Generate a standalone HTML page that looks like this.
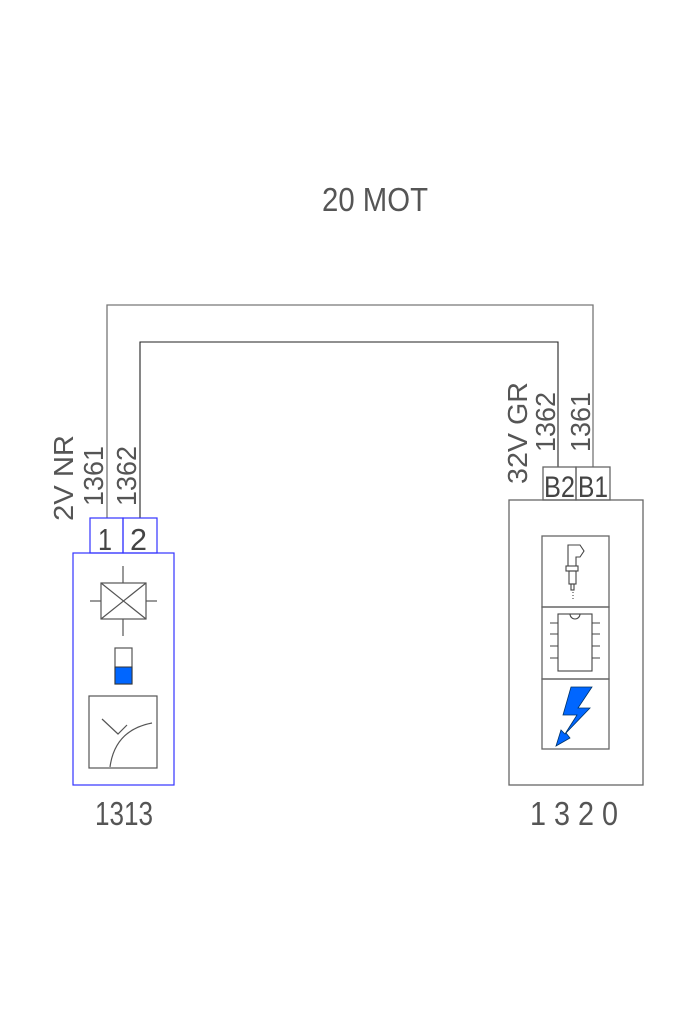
<!DOCTYPE html>
<html><head><style>body{margin:0;background:#fff}</style></head><body>
<svg width="700" height="1020" xmlns="http://www.w3.org/2000/svg" font-family="Liberation Sans, sans-serif" fill="none">
<g fill="#555" font-size="33">
<text x="322" y="211" textLength="106" lengthAdjust="spacingAndGlyphs">20 MOT</text>
<text x="95" y="825" textLength="58" lengthAdjust="spacingAndGlyphs">1313</text>
<text x="530" y="825" textLength="88" lengthAdjust="spacingAndGlyphs">1 3 2 0</text>
</g>
<g fill="#555" font-size="28">
<text transform="translate(73,521) rotate(-90)" textLength="86" lengthAdjust="spacingAndGlyphs">2V NR</text>
<text transform="translate(103,506) rotate(-90)" textLength="60" lengthAdjust="spacingAndGlyphs">1361</text>
<text transform="translate(136,506) rotate(-90)" textLength="60" lengthAdjust="spacingAndGlyphs">1362</text>
<text transform="translate(527,484) rotate(-90)" textLength="102" lengthAdjust="spacingAndGlyphs">32V GR</text>
<text transform="translate(555,452) rotate(-90)" textLength="60" lengthAdjust="spacingAndGlyphs">1362</text>
<text transform="translate(590,452) rotate(-90)" textLength="60" lengthAdjust="spacingAndGlyphs">1361</text>
</g>
<g stroke="#777" stroke-width="1.3">
<polyline points="107,518 107,305 593,305 593,467"/>
</g>
<g stroke="#222" stroke-width="1.1">
<polyline points="140,518 140,342 558,342 558,467"/>
</g>
<g stroke="#33f" stroke-width="1.2">
<rect x="90" y="518" width="33" height="35"/><rect x="123" y="518" width="34" height="35"/>
<rect x="73" y="553" width="101" height="232"/>
</g>
<g fill="#444" font-size="31">
<text x="98" y="550" textLength="14" lengthAdjust="spacingAndGlyphs">1</text><text x="130" y="550" textLength="17" lengthAdjust="spacingAndGlyphs">2</text>
</g>
<g stroke="#555" stroke-width="1.2">
<rect x="101" y="583" width="45" height="36"/>
<line x1="101" y1="583" x2="146" y2="619"/><line x1="146" y1="583" x2="101" y2="619"/>
<line x1="123" y1="566" x2="123" y2="583"/><line x1="123" y1="619" x2="123" y2="636"/>
<line x1="90" y1="601" x2="101" y2="601"/><line x1="146" y1="601" x2="157" y2="601"/>
<rect x="115" y="648" width="17" height="36"/>
<rect x="89" y="696" width="68" height="72"/>
<path d="M110 767 Q115 730 152 723"/>
<path d="M102 719 L118 734 L127 725 M111 711"/>
</g>
<rect x="115" y="667" width="17" height="17" fill="#06f" stroke="#333"/>
<g stroke="#666" stroke-width="1.3">
<rect x="543" y="467" width="33" height="33"/><rect x="576" y="467" width="34" height="33"/>
<rect x="509" y="500" width="134" height="285"/>
<rect x="542" y="536" width="67" height="71"/><rect x="542" y="607" width="67" height="72"/><rect x="542" y="679" width="67" height="70"/>
</g>
<g fill="#444" font-size="30">
<text x="544" y="497" textLength="31" lengthAdjust="spacingAndGlyphs">B2</text>
<text x="578" y="497" textLength="30" lengthAdjust="spacingAndGlyphs">B1</text>
</g>
<g stroke="#444" stroke-width="1.1">
<path d="M568 545 h12 l4 6 -4 6 h-4 v9 h-8 z"/>
<rect x="566" y="566" width="12" height="5"/>
<rect x="569" y="571" width="7" height="13"/>
<rect x="571" y="584" width="3" height="6"/>
<line x1="573" y1="592" x2="573" y2="600" stroke-dasharray="1,2"/>
<rect x="558" y="614" width="34" height="57"/>
<path d="M570 614 a5 5 0 0 0 10 0"/>
<path d="M550 623h8M550 634h8M550 646h8M550 658h8M592 623h8M592 634h8M592 646h8M592 658h8"/>
</g>
<path d="M571 687 L592 687 L578 708 L590 708 L566 733 L570 738 L556 746 L561 730 L565 734 L577 715 L563 715 Z" fill="#06f" stroke="#036" stroke-width="0.8"/>
</svg>
</body></html>
